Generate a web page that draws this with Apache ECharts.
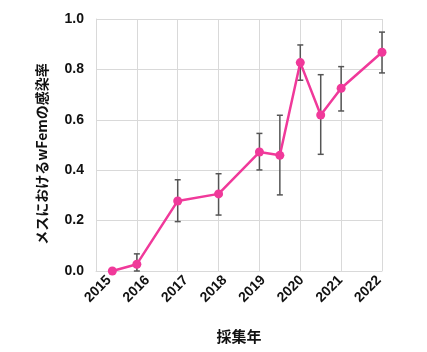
<!DOCTYPE html>
<html>
<head>
<meta charset="utf-8">
<script src="https://cdn.jsdelivr.net/npm/echarts@6/dist/echarts.min.js"></script>
<style>
html, body { margin: 0; padding: 0; background: #fff; }
#main { width: 427px; height: 352px; }
</style>
</head>
<body>
<div id="main"></div>
<script>
// 採集年 (点の位置), 感染率, 誤差範囲
var xPos = [2015.4, 2016, 2017, 2018, 2019, 2019.5, 2020, 2020.5, 2021, 2022];
var rate = [0.0, 0.027, 0.278, 0.306, 0.472, 0.459, 0.827, 0.619, 0.725, 0.868];
var lower = [0.0, 0.0, 0.196, 0.222, 0.401, 0.302, 0.757, 0.463, 0.635, 0.786];
var upper = [0.0, 0.068, 0.362, 0.386, 0.546, 0.618, 0.897, 0.779, 0.811, 0.948];
var yearLabels = [2015, 2016, 2017, 2018, 2019, 2020, 2021, 2022];

var myChart = echarts.init(document.getElementById('main'));

var lineData = xPos.map(function (x, i) { return [x, rate[i]]; });
var errData = xPos.map(function (x, i) { return [x, lower[i], upper[i]]; });

var boldFont = '"Liberation Sans", Arial, sans-serif';
var cjkFont = '"Noto Sans CJK JP", sans-serif';

var option = {
	animation: false,
	grid: {
		left: 96,
		right: 45,
		top: 19,
		bottom: 81
	},
	graphic: [{
		type: 'text',
		x: 42,
		y: 154,
		rotation: Math.PI / 2,
		style: {
			text: 'メスにおけるwFemの感染率',
			fill: '#111',
			fontSize: 14,
			fontWeight: 'bold',
			fontFamily: cjkFont,
			align: 'center',
			verticalAlign: 'middle'
		}
	}],
	xAxis: [{
		type: 'value',
		min: 2015,
		max: 2022,
		interval: 1,
		axisLine: { show: true, lineStyle: { color: '#d9d9d9' } },
		axisTick: { show: false },
		axisLabel: { show: false },
		splitLine: { show: true, lineStyle: { color: '#d9d9d9', width: 1 } },
		name: '採集年',
		nameLocation: 'middle',
		nameGap: 58,
		nameTextStyle: {
			color: '#111',
			fontSize: 15,
			fontWeight: 'bold',
			fontFamily: cjkFont
		}
	}, {
		// 目盛ラベル用の軸 (ラベル位置が少しずれている)
		type: 'value',
		position: 'bottom',
		min: 2014.663,
		max: 2022.078,
		axisLine: { show: false },
		axisTick: { show: false },
		splitLine: { show: false },
		axisLabel: {
			customValues: yearLabels,
			rotate: 45,
			margin: 7,
			color: '#111',
			fontSize: 14,
			fontWeight: 'bold',
			fontFamily: boldFont,
			formatter: function (v) { return String(Math.round(v)); }
		}
	}],
	yAxis: {
		type: 'value',
		min: 0,
		max: 1,
		interval: 0.2,
		axisLine: { show: true, lineStyle: { color: '#d9d9d9' } },
		axisTick: { show: false },
		splitLine: { show: true, lineStyle: { color: '#d9d9d9', width: 1 } },
		axisLabel: {
			margin: 12,
			color: '#111',
			fontSize: 14,
			fontWeight: 'bold',
			fontFamily: boldFont,
			formatter: function (v) { return v.toFixed(1); }
		}
	},
	series: [{
		type: 'custom',
		xAxisIndex: 0,
		clip: false,
		data: errData,
		z: 1,
		renderItem: function (params, api) {
			var x = api.value(0);
			var lo = api.coord([x, api.value(1)]);
			var hi = api.coord([x, api.value(2)]);
			var cap = 3;
			var style = { stroke: '#555', lineWidth: 1.5 };
			return {
				type: 'group',
				children: [{
					type: 'line',
					shape: { x1: hi[0], y1: hi[1], x2: lo[0], y2: lo[1] },
					style: style
				}, {
					type: 'line',
					shape: { x1: hi[0] - cap, y1: hi[1], x2: hi[0] + cap, y2: hi[1] },
					style: style
				}, {
					type: 'line',
					shape: { x1: lo[0] - cap, y1: lo[1], x2: lo[0] + cap, y2: lo[1] },
					style: style
				}]
			};
		}
	}, {
		type: 'line',
		xAxisIndex: 0,
		data: lineData,
		z: 2,
		symbol: 'circle',
		symbolSize: 9,
		lineStyle: { color: '#f0399a', width: 2.5 },
		itemStyle: { color: '#f0399a' }
	}]
};

myChart.setOption(option);
</script>
</body>
</html>
